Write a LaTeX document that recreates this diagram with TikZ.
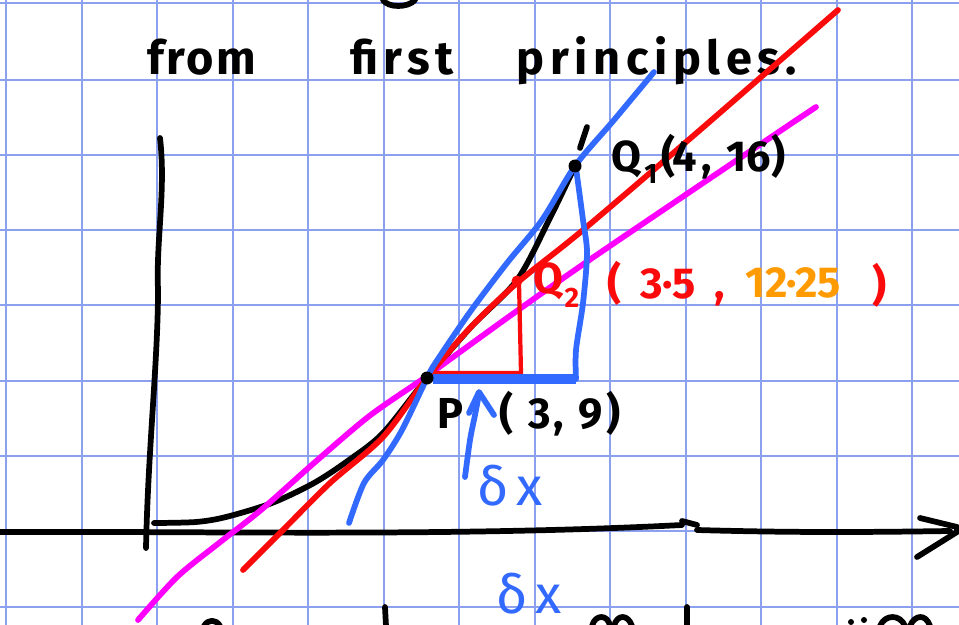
\documentclass[tikz,border=0pt]{standalone}
\usepackage{fontspec}
\setmainfont{Fira Sans}
\definecolor{gridblue}{RGB}{140,160,240}
\definecolor{penblue}{RGB}{50,105,255}
\definecolor{penred}{RGB}{250,10,10}
\definecolor{penmag}{RGB}{255,0,255}
\definecolor{penorange}{RGB}{255,155,0}
\tikzset{
  gridline/.style={gridblue, line width=1.7pt},
  pen/.style={line width=4.9pt, line cap=round, line join=round},
  thinpen/.style={line width=3.6pt, line cap=round, line join=round},
  titletext/.style={inner sep=0pt, anchor=base, font=\fontsize{40}{44}\selectfont\bfseries},
  lab/.style={inner sep=0pt, anchor=base, font=\fontsize{37}{40}\selectfont\bfseries},
  labsub/.style={inner sep=0pt, anchor=base, font=\fontsize{24}{26}\selectfont\bfseries},
  deltalab/.style={inner sep=0pt, font=\fontsize{46}{48}\selectfont, penblue},
}
\begin{document}
\begin{tikzpicture}[x=0.03cm, y=-0.03cm]
\clip (0,0) rectangle (959,625);
\fill[white] (0,0) rectangle (959,625);
% grid paper
\foreach \gx in {6,82,157,233,308,384,459,535,610,686,761,837,912}
  \draw[gridline] (\gx,0) -- (\gx,625);
\foreach \gy in {3,80,155,230,305,381,456,531,607}
  \draw[gridline] (0,\gy) -- (959,\gy);

% title
\node[titletext] (wfrom) at (202,75) {\addfontfeature{LetterSpace=5}from};
\node[titletext] (wfirst) at (402,75) {\addfontfeature{LetterSpace=12}first};
\node[titletext] (wprin) at (657,75) {\addfontfeature{LetterSpace=12}principles.};
\draw[pen] (383,0) .. controls (388,8) and (408,8) .. (415,0);

% key points
\coordinate (P) at (427,378);
\coordinate (Q1) at (575,166);
\coordinate (Q2) at (517,281);
\coordinate (R) at (521,373);
\coordinate (B) at (576,379);

% axes
\draw[pen] (160,138) .. controls (166,190) and (156,240) .. (158,290)
  .. controls (158,360) and (148,450) .. (146,548);
\draw[pen] (0,532) .. controls (200,531) and (450,537) .. (682,525);
\draw[pen] (682,521) -- (697,525);
\draw[pen] (697,530) .. controls (800,533) and (880,532) .. (950,531);
\draw[pen] (920,518) -- (957,527) -- (957,532) -- (917,557);

% curve y = x^2
\draw[pen] plot[smooth] coordinates {(154,523) (196,522) (226,517) (272,503) (314,483)
  (349,460) (383,433) (427,378) (471,327) (517,280) (549,220) (575,166)};

% tangent (magenta)
\draw[pen, penmag] plot[smooth] coordinates {(138,620) (177,577) (219,543) (261,510)
  (314,463) (368,417) (414,385) (427,376) (507,318) (585,263) (706,181) (795,121) (816,107)};

% secant P-Q2 (red)
\draw[pen, penred] plot[smooth] coordinates {(243,570) (280,533) (330,483) (383,437)
  (427,378) (470,328) (517,283) (583,230) (700,130) (838,10)};
\draw[thinpen, penred] (430,373) -- (R) -- (519,283);

% secant P-Q1 (blue)
\draw[pen, penblue] plot[smooth] coordinates {(349,523) (364,483) (383,460) (402,430)
  (427,378) (436,362) (470,312) (507,263) (542,220) (575,166) (614,120) (654,72)};
\draw[pen, penblue] plot[smooth] coordinates {(576,168) (583,220) (587,253) (583,303) (576,350) (576,379)};
\draw[penblue, line width=8.5pt] (433,379) -- (B);

% delta x arrow
\draw[pen, penblue] plot[smooth] coordinates {(465,477) (470,440) (475,415) (479,394)};
\draw[pen, penblue] (469,413) -- (479,392) -- (494,415);
\node[deltalab] (dx) at (510,486) {\addfontfeature{LetterSpace=15}δx};
\node[deltalab, anchor=base west] (dxb) at (496,613) {\addfontfeature{LetterSpace=15}δx};

% points
\fill (P) circle (6.5);
\fill (Q1) circle (6.5);
\fill[penred] (Q2) circle (5.5);
\draw[pen] (587,127) -- (580,148);

% labels Q1
\node[lab] (q1Q) at (626,172) {Q};
\node[labsub] (q1s) at (651,184) {1};
\node[lab] (q1a) at (669,172) {(};
\node[lab] (q1b) at (685,172) {4};
\node[lab] (q1c) at (707,172) {,};
\node[lab] (q1d) at (749,172) {16};
\node[lab] (q1e) at (779,172) {)};

% labels Q2
\node[lab, penred] (q2Q) at (548,293) {Q};
\node[labsub, penred] (q2s) at (572,307) {2};
\node[lab, penred] (q2a) at (615,298) {(};
\node[lab, penred] (q2b) at (668,298) {3·5};
\node[lab, penred] (q2c) at (720,298) {,};
\node[lab, penorange] (q2d) at (793,297) {12·25};
\node[lab, penred] (q2e) at (880,300) {)};

% labels P
\node[lab] (pP) at (450,428) {P};
\node[lab] (pa) at (507,428) {(};
\node[lab] (pb) at (540,428) {3};
\node[lab] (pc) at (559,428) {,};
\node[lab] (pd) at (591,428) {9};
\node[lab] (pe) at (614,428) {)};

% fragments of the next line of writing
\draw[pen] (385,607) -- (386,626);
\draw[pen] (687,607) -- (687,626);
\draw[pen] (204,626) .. controls (208,619) and (216,619) .. (220,626);
\draw[pen] (592,626) .. controls (595,614) and (608,614) .. (610,626);
\draw[pen] (614,626) .. controls (617,614) and (628,614) .. (632,626);
\fill (851,622) circle (3);
\fill (864,620) circle (3);
\draw[pen] (880,626) .. controls (885,614) and (900,614) .. (905,626);
\draw[pen] (910,626) .. controls (915,614) and (926,614) .. (930,626);
\end{tikzpicture}
\end{document}
